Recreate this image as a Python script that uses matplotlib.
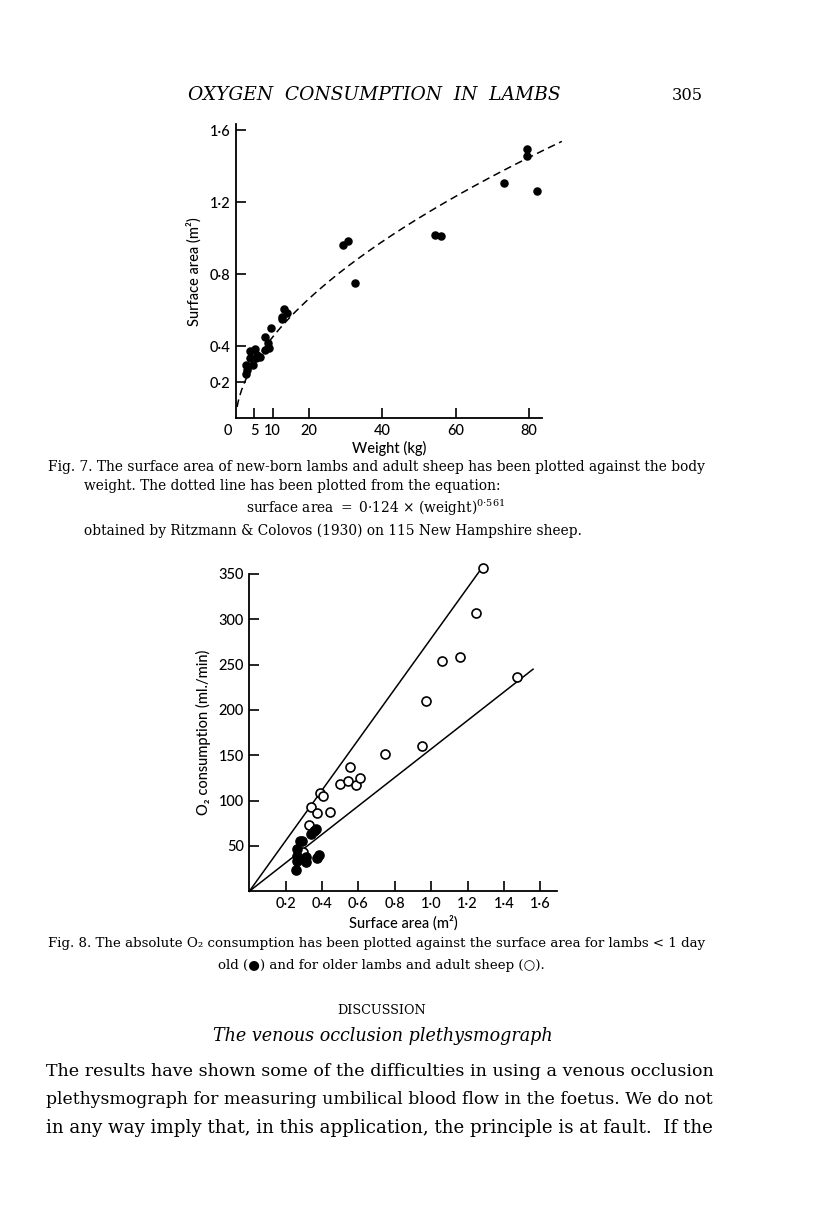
import numpy as np
import matplotlib
matplotlib.use("Agg")
import matplotlib.pyplot as plt

# Fig. 7 - surface area against body weight (new-born lambs and adult sheep)
weight_kg = [79.6, 79.4, 73.2, 82.1, 54.3, 56.1, 29.3, 30.5, 32.4,
             13.2, 13.8, 12.7, 12.5, 9.5, 8.0, 8.8, 7.8, 9.1,
             3.9, 5.2, 6.6, 5.5, 3.8, 4.7, 2.7, 2.9, 2.6, 5.8]
surface_m2 = [1.496, 1.459, 1.309, 1.261, 1.020, 1.013, 0.961, 0.983, 0.754,
              0.606, 0.587, 0.561, 0.550, 0.500, 0.450, 0.417, 0.380, 0.391,
              0.374, 0.383, 0.343, 0.333, 0.333, 0.296, 0.296, 0.269, 0.246, 0.352]
# Ritzmann & Colovos (1930): surface area = 0.124 x weight^0.561
coef = 0.124
expo = 0.561
curve_w = np.linspace(0.3, 89, 300)

# Fig. 8 - O2 consumption against surface area
older_area = [1.283, 1.244, 1.059, 1.158, 0.969, 0.952, 1.473, 0.747, 0.556, 0.497,
              0.543, 0.587, 0.606, 0.387, 0.407, 0.339, 0.371, 0.442, 0.328, 0.294]
older_o2 = [357, 307, 254, 258, 210, 160, 236, 151, 137, 118,
            122, 117, 125, 108, 105, 93, 86, 88, 73, 43]
newborn_area = [0.365, 0.354, 0.341, 0.292, 0.281, 0.261, 0.261, 0.261,
                0.312, 0.312, 0.371, 0.382, 0.257]
newborn_o2 = [69, 66, 63, 56, 55, 47, 39, 33, 38, 32, 37, 40, 23]
upper_line_x = [0, 1.283]
upper_line_y = [0, 358]
lower_line_x = [0, 1.56]
lower_line_y = [0, 245]

W, H = 816, 1226
fig = plt.figure(figsize=(W/100, H/100), dpi=100)
fig.patch.set_facecolor("white")
sans = ["Lato", "DejaVu Sans"]
serif = ["DejaVu Serif", "DejaVu Sans"]
plt.rcParams["mathtext.fontset"] = "dejavuserif"

def style(ax):
    for s in ["top", "right"]:
        ax.spines[s].set_visible(False)
    for s in ["left", "bottom"]:
        ax.spines[s].set_linewidth(1.3)
    ax.tick_params(direction="in", length=7, width=1.2, pad=4, labelsize=10.5)
    for lab in ax.get_xticklabels() + ax.get_yticklabels():
        lab.set_family(sans)
        lab.set_weight("medium")

# ---- Fig 7
ax1 = fig.add_axes([236/W, 1-418.3/H, 305.7/W, 294.3/H])
ax1.plot(curve_w, coef*curve_w**expo, color="black", lw=1.1, dashes=(5, 3), clip_on=False)
ax1.scatter(weight_kg, surface_m2, s=26, color="black", zorder=3, clip_on=False)
ax1.set_xlim(0, 83.5)
ax1.set_ylim(0, 1.635)
ax1.set_xticks([5, 10, 20, 40, 60, 80])
ax1.set_yticks([0.2, 0.4, 0.8, 1.2, 1.6])
ax1.set_yticklabels(["0·2", "0·4", "0·8", "1·2", "1·6"])
style(ax1)
ax1.text(-2.2, -0.03, "0", ha="center", va="top", fontsize=10.5, family=sans, weight="medium")
ax1.set_xlabel("Weight (kg)", family=sans, fontsize=10.5, labelpad=2, weight="medium")
ax1.set_ylabel("Surface area (m²)", family=sans, fontsize=10.5, labelpad=6, weight="medium")

# ---- Fig 8
ax2 = fig.add_axes([249.3/W, 1-891.3/H, 307.4/W, 317.3/H])
ax2.plot(upper_line_x, upper_line_y, color="black", lw=1.1, clip_on=False)
ax2.plot(lower_line_x, lower_line_y, color="black", lw=1.1, clip_on=False)
ax2.scatter(older_area, older_o2, s=42, facecolor="white", edgecolor="black",
            linewidth=1.2, zorder=3, clip_on=False)
ax2.scatter(newborn_area, newborn_o2, s=44, color="black", zorder=4, clip_on=False)
ax2.set_xlim(0, 1.69)
ax2.set_ylim(0, 350)
ax2.set_xticks([0.2, 0.4, 0.6, 0.8, 1.0, 1.2, 1.4, 1.6])
ax2.set_xticklabels(["0·2", "0·4", "0·6", "0·8", "1·0", "1·2", "1·4", "1·6"])
ax2.set_yticks([50, 100, 150, 200, 250, 300, 350])
style(ax2)
ax2.set_xlabel("Surface area (m²)", family=sans, fontsize=10.5, labelpad=3, weight="medium")
ax2.set_ylabel("O₂ consumption (ml./min)", family=sans, fontsize=10.5, labelpad=5, weight="medium")

# ---- page text
fig.canvas.draw()
rend = fig.canvas.get_renderer()

def put(x, y, s, size, ha="left", **kw):
    return fig.text(x/W, 1-y/H, s, ha=ha, va="center", fontsize=size, **kw)

def fit(x0, x1, y, s, **kw):
    t = put(x0, y, s, 12, **kw)
    w = t.get_window_extent(rend).width
    t.set_fontsize(12*(x1-x0)/w)
    return t.get_fontsize()

fit(188, 560, 95, "OXYGEN  CONSUMPTION  IN  LAMBS", family=serif, style="italic")
fit(672, 703, 95, "305", family=serif)

cap = fit(48, 704, 467, "Fig. 7. The surface area of new-born lambs and adult sheep has been plotted against the body",
          family=serif)
put(84, 486, "weight. The dotted line has been plotted from the equation:", cap, family=serif)
put(376, 508, r"surface area $=$ 0·124 × (weight)$^{0{\cdot}561}$", cap, ha="center", family=serif)
put(84, 531, "obtained by Ritzmann & Colovos (1930) on 115 New Hampshire sheep.", cap, family=serif)

cap2 = fit(48, 704, 944, "Fig. 8. The absolute O₂ consumption has been plotted against the surface area for lambs < 1 day",
           family=serif)
put(381, 966, "old (●) and for older lambs and adult sheep (○).", cap2, ha="center", family=serif)

put(382, 1010, "DISCUSSION", cap2 - 0.5, ha="center", family=serif)
put(383, 1036, "The venous occlusion plethysmograph", cap2 + 3, ha="center", family=serif, style="italic")

body = ["The results have shown some of the difficulties in using a venous occlusion",
        "plethysmograph for measuring umbilical blood flow in the foetus. We do not",
        "in any way imply that, in this application, the principle is at fault.  If the"]
for i, line in enumerate(body):
    fit(46, 708, 1072 + 28*i, line, family=serif)

fig.savefig("out.png", dpi=100)
